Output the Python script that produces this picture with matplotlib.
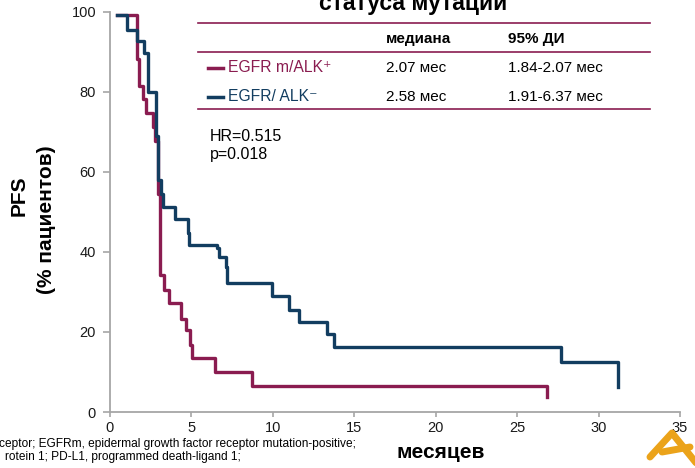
import matplotlib
matplotlib.use("Agg")
import matplotlib.pyplot as plt

plt.rcParams['font.family'] = ['Liberation Sans', 'DejaVu Sans']

# Kaplan-Meier steps (months, % patients)
red_t = [0.45, 1.63, 1.80, 2.00, 2.18, 2.62, 2.78, 2.94, 3.07, 3.33, 3.62,
         4.36, 4.66, 4.91, 5.03, 6.46, 8.71, 26.85]
red_s = [99.3, 88.3, 81.4, 78.3, 74.7, 71.2, 67.6, 54.4, 34.1, 30.6, 27.2,
         23.3, 20.4, 16.8, 13.6, 10.1, 6.4, 3.7]
blue_t = [0.45, 1.06, 1.63, 2.08, 2.35, 2.82, 2.92, 3.13, 3.23, 4.02, 4.76,
          4.86, 6.55, 6.67, 7.15, 7.21, 9.94, 10.98, 11.60, 13.30, 13.77,
          27.70, 31.20]
blue_s = [99.3, 95.5, 92.8, 89.7, 80.0, 68.9, 57.9, 54.5, 51.3, 48.2, 44.8,
          41.8, 41.0, 38.6, 36.2, 32.2, 29.0, 25.5, 22.4, 19.5, 16.2,
          12.4, 6.2]

x_ticks = [0, 5, 10, 15, 20, 25, 30, 35]
y_ticks = [0, 20, 40, 60, 80, 100]

groups = ['EGFR m/ALK\u207a', 'EGFR/ ALK\u207b']
medians = ['2.07 мес', '2.58 мес']
cis = ['1.84-2.07 мес', '1.91-6.37 мес']

RED = '#8a1c50'
BLUE = '#123d60'
W, H = 695, 468


def fx(px):
    return px / W


def fy(py):
    return 1 - py / H


fig = plt.figure(figsize=(6.95, 4.68), dpi=100)
ax = fig.add_axes([fx(110), fy(412), 570 / W, 400.3 / H])

ax.step(red_t, red_s, where='post', color=RED, lw=2.4)
ax.step(blue_t, blue_s, where='post', color=BLUE, lw=2.4)

ax.set_xlim(0, 35)
ax.set_ylim(0, 100)
ax.set_xticks(x_ticks)
ax.set_yticks(y_ticks)
for side in ['top', 'right']:
    ax.spines[side].set_visible(False)
for side in ['left', 'bottom']:
    ax.spines[side].set_color('#a6a6a6')
    ax.spines[side].set_linewidth(1.3)
ax.tick_params(colors='#a6a6a6', labelcolor='#1a1a1a', labelsize=10.5,
               width=1.2)
ax.tick_params(axis='y', length=5, pad=5)
ax.tick_params(axis='x', length=3.5, pad=3)

# axis labels
fig.text(fx(19), fy(196), 'PFS', rotation=90, ha='center', va='center',
         fontsize=15, fontweight='bold')
fig.text(fx(47), fy(220), '(% пациентов)', rotation=90, ha='center',
         va='center', fontsize=15, fontweight='bold')
fig.text(fx(441), fy(452), 'месяцев', ha='center', va='center',
         fontsize=15, fontweight='bold')

# title (cut off at top)
fig.text(fx(413), fy(10), 'статуса мутации', ha='center', va='baseline',
         fontsize=16.5, fontweight='bold')

# table
for yy in [23.3, 52.3, 109.3]:
    fig.add_artist(plt.Line2D([fx(198), fx(650)], [fy(yy), fy(yy)],
                              color=RED, lw=1.2))
fig.text(fx(386), fy(39.5), 'медиана', ha='left', va='center',
         fontsize=11, fontweight='bold')
fig.text(fx(508), fy(39.5), '95% ДИ', ha='left', va='center',
         fontsize=11, fontweight='bold')
row_y = [67.7, 96.7]
for yy, name, col, med, ci in zip(row_y, groups, [RED, BLUE], medians, cis):
    fig.add_artist(plt.Line2D([fx(208), fx(223)], [fy(yy), fy(yy)],
                              color=col, lw=2.5))
    fig.text(fx(228), fy(yy), name, ha='left', va='center',
             fontsize=11.3, color=col)
    fig.text(fx(386), fy(yy), med, ha='left', va='center', fontsize=11)
    fig.text(fx(508), fy(yy), ci, ha='left', va='center', fontsize=11)

fig.text(fx(210), fy(136), 'HR=0.515', ha='left', va='center', fontsize=11.5)
fig.text(fx(210), fy(154), 'p=0.018', ha='left', va='center', fontsize=11.5)

# footnote (cut off at left)
foot_font = ['Liberation Sans Narrow', 'Liberation Sans']
fig.text(fx(356), fy(443.5),
         'ceptor; EGFRm, epidermal growth factor receptor mutation-positive;',
         ha='right', va='center', fontsize=8.6, family=foot_font)
fig.text(fx(241), fy(457),
         'rotein 1; PD-L1, programmed death-ligand 1;',
         ha='right', va='center', fontsize=8.6, family=foot_font)

# logo fragment in the corner
for xs, ys in [([650, 672, 697], [457, 433, 464]),
               ([662, 690], [452, 447])]:
    fig.add_artist(plt.Line2D([fx(v) for v in xs], [fy(v) for v in ys],
                              color='#eba31a', lw=5, solid_capstyle='round',
                              solid_joinstyle='round'))

fig.savefig('out.png', dpi=100)
